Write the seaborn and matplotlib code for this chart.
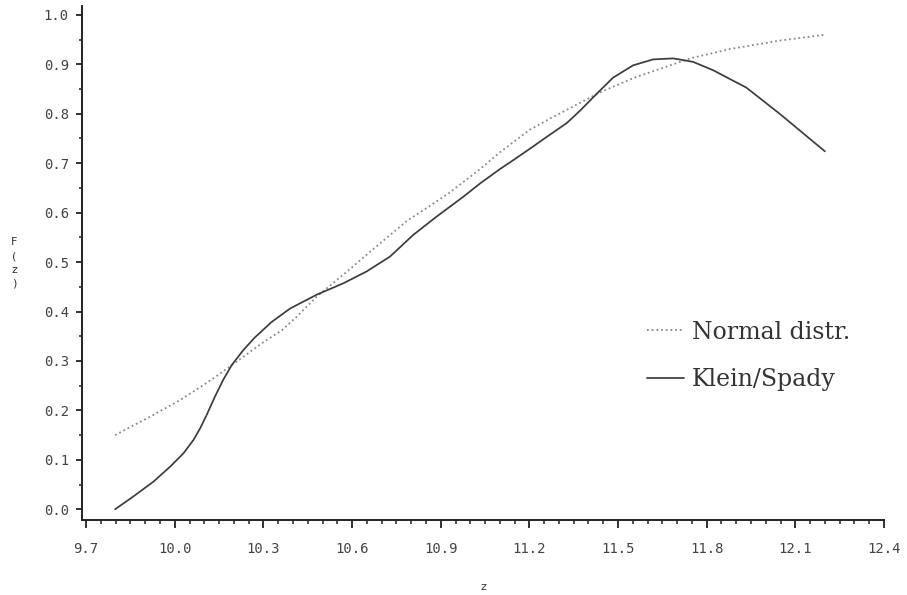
import matplotlib
matplotlib.use("Agg")
import matplotlib.pyplot as plt
import seaborn as sns
import pandas as pd
from matplotlib.ticker import MultipleLocator, FixedLocator, FixedFormatter

# ---- data ----
z_ks = [9.798, 9.860, 9.928, 9.984, 10.029, 10.063, 10.086, 10.108, 10.136, 10.164,
        10.193, 10.232, 10.270, 10.328, 10.390, 10.480, 10.570, 10.649, 10.728, 10.807,
        10.886, 10.976, 11.033, 11.100, 11.145, 11.213, 11.258, 11.326, 11.371, 11.427,
        11.483, 11.551, 11.619, 11.687, 11.754, 11.822, 11.934, 12.047, 12.200]
f_ks = [0.000, 0.026, 0.056, 0.086, 0.113, 0.140, 0.164, 0.191, 0.228, 0.262,
        0.292, 0.322, 0.347, 0.379, 0.406, 0.434, 0.457, 0.481, 0.511, 0.555,
        0.592, 0.632, 0.659, 0.688, 0.706, 0.734, 0.753, 0.781, 0.806, 0.840,
        0.873, 0.898, 0.910, 0.912, 0.905, 0.888, 0.853, 0.800, 0.724]

z_norm = [9.798, 9.928, 10.018, 10.086, 10.131, 10.210, 10.300, 10.362, 10.410, 10.480,
          10.593, 10.661, 10.785, 10.864, 10.931, 11.033, 11.100, 11.202, 11.269, 11.371,
          11.438, 11.551, 11.744, 11.879, 12.047, 12.200]
f_norm = [0.150, 0.191, 0.221, 0.247, 0.265, 0.299, 0.338, 0.362, 0.388, 0.430,
          0.486, 0.521, 0.583, 0.614, 0.641, 0.688, 0.722, 0.768, 0.790, 0.822,
          0.843, 0.872, 0.912, 0.931, 0.948, 0.960]

x_ticks = [9.7, 10.0, 10.3, 10.6, 10.9, 11.2, 11.5, 11.8, 12.1, 12.4]
x_labels = ["9.7", "10.0", "10.3", "10.6", "10.9", "11.2", "11.5", "11.8", "12.1", "12.4"]
y_ticks = [0.0, 0.1, 0.2, 0.3, 0.4, 0.5, 0.6, 0.7, 0.8, 0.9, 1.0]
y_labels = ["0.0", "0.1", "0.2", "0.3", "0.4", "0.5", "0.6", "0.7", "0.8", "0.9", "1.0"]

series_names = ["Normal distr.", "Klein/Spady"]

# ---- plotting ----
sns.set_theme(style="white")
plt.rcParams["font.family"] = ["DejaVu Sans"]

fig = plt.figure(figsize=(9.07, 5.95), dpi=100)
ax = fig.add_axes([82 / 907, 1 - 520 / 595, (884 - 82) / 907, (520 - 6) / 595])

df_norm = pd.DataFrame({"z": z_norm, "F": f_norm})
df_ks = pd.DataFrame({"z": z_ks, "F": f_ks})

sns.lineplot(data=df_norm, x="z", y="F", ax=ax, color="#8a8a8a",
             linewidth=1.3, linestyle=(0, (1, 1.6)), label=series_names[0],
             estimator=None, sort=False)
sns.lineplot(data=df_ks, x="z", y="F", ax=ax, color="#3c3c3c",
             linewidth=1.25, label=series_names[1], estimator=None, sort=False)
for ln in ax.get_lines():
    ln.set_solid_joinstyle("round")

ax.set_xlim(9.686, 12.4)
ax.set_ylim(-0.0217, 1.018)

for s in ["top", "right"]:
    ax.spines[s].set_visible(False)
for s in ["left", "bottom"]:
    ax.spines[s].set_color("#222222")
    ax.spines[s].set_linewidth(1.4)

ax.xaxis.set_major_locator(FixedLocator(x_ticks))
ax.xaxis.set_major_formatter(FixedFormatter(x_labels))
ax.xaxis.set_minor_locator(MultipleLocator(0.05))
ax.yaxis.set_major_locator(FixedLocator(y_ticks))
ax.yaxis.set_major_formatter(FixedFormatter(y_labels))
ax.yaxis.set_minor_locator(MultipleLocator(0.05))

ax.tick_params(axis="both", which="major", direction="out", width=1.3,
               color="#222222", labelcolor="#444444", labelsize=10,
               bottom=True, left=True)
ax.tick_params(axis="both", which="minor", direction="out", width=1.1,
               color="#222222", bottom=True, left=True)
ax.tick_params(axis="x", which="major", length=6, pad=10)
ax.tick_params(axis="x", which="minor", length=3)
ax.tick_params(axis="y", which="major", length=4.5, pad=5)
ax.tick_params(axis="y", which="minor", length=2.5)
for lab in ax.get_xticklabels() + ax.get_yticklabels():
    lab.set_family("DejaVu Sans Mono")

ax.set_xlabel("")
ax.set_ylabel("")
fig.text(483 / 907, 1 - 587 / 595, "z", ha="center", va="center",
         fontsize=8, color="#333333")
fig.text(14 / 907, 1 - 263 / 595, "F\n(\nz\n)", ha="center", va="center",
         fontsize=8, color="#333333", linespacing=1.48)

leg = ax.legend(loc="center left", bbox_to_anchor=(647 / 907, 1 - 356 / 595),
                bbox_transform=fig.transFigure, frameon=False,
                borderaxespad=0, borderpad=0, handlelength=1.55,
                handletextpad=0.35, labelspacing=1.05,
                prop={"family": "DejaVu Serif", "size": 17})
for t in leg.get_texts():
    t.set_color("#333333")

ax.set_facecolor("white")
fig.patch.set_facecolor("white")
fig.savefig("out.png", dpi=100)
